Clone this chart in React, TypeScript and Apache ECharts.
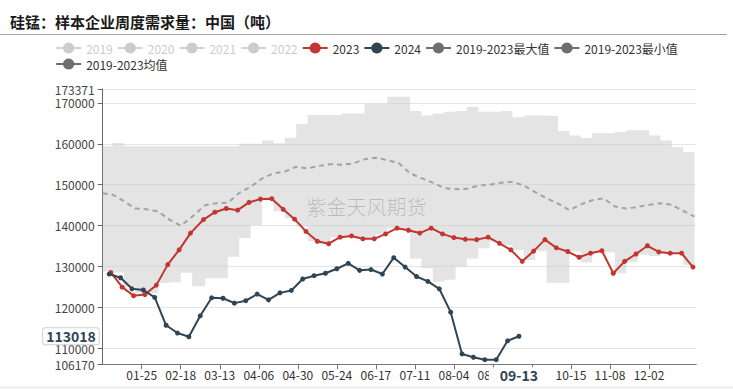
import React, { useEffect, useRef } from 'react';
import * as echarts from 'echarts';

const TITLE = '硅锰：样本企业周度需求量：中国（吨）';
const WATERMARK = '紫金天风期货';
const FONT = '"Noto Sans CJK SC", "Liberation Sans", sans-serif';

// x categories: every calendar day (leap-year layout), MM-DD
const MONTH_DAYS = [31, 29, 31, 30, 31, 30, 31, 31, 30, 31, 30, 31];
const dayCategories: string[] = [];
MONTH_DAYS.forEach((n, m) => {
  for (let d = 1; d <= n; d++) {
    dayCategories.push(String(m + 1).padStart(2, '0') + '-' + String(d).padStart(2, '0'));
  }
});

const Y_MIN = 106170;
const Y_MAX = 173371;

const days2023 = [
  '01-06', '01-13', '01-20', '01-27', '02-03', '02-10', '02-17', '02-24', '03-03', '03-10',
  '03-17', '03-24', '03-31', '04-07', '04-14', '04-21', '04-28', '05-05', '05-12', '05-19',
  '05-26', '06-02', '06-09', '06-16', '06-23', '06-30', '07-07', '07-14', '07-21', '07-28',
  '08-04', '08-11', '08-18', '08-25', '09-01', '09-08', '09-15', '09-22', '09-29', '10-06',
  '10-13', '10-20', '10-27', '11-03', '11-10', '11-17', '11-24', '12-01', '12-08', '12-15',
  '12-22', '12-29',
];
const values2023 = [
  128600, 125000, 122900, 123200, 125500, 130500, 134100, 138200, 141500, 143300,
  144200, 143800, 145700, 146500, 146600, 144000, 141600, 138600, 136200, 135600,
  137200, 137500, 136800, 136800, 138000, 139400, 138900, 138200, 139400, 138000,
  137100, 136700, 136600, 137200, 135700, 134100, 131300, 133800, 136600, 134600,
  133700, 132300, 133300, 133900, 128400, 131300, 133100, 135100, 133600, 133300,
  133300, 129900,
];

const days2024 = [
  '01-05', '01-12', '01-19', '01-26', '02-02', '02-09', '02-16', '02-23', '03-01', '03-08',
  '03-15', '03-22', '03-29', '04-05', '04-12', '04-19', '04-26', '05-03', '05-10', '05-17',
  '05-24', '05-31', '06-07', '06-14', '06-21', '06-28', '07-05', '07-12', '07-19', '07-26',
  '08-02', '08-09', '08-16', '08-23', '08-30', '09-06', '09-13',
];
const values2024 = [
  128200, 127300, 124600, 124300, 122500, 115700, 113800, 112900, 118000, 122400,
  122300, 121100, 121700, 123300, 121900, 123600, 124200, 127000, 127800, 128400,
  129500, 130800, 129100, 129300, 128200, 132200, 129900, 127600, 126400, 124600,
  118900, 108700, 107900, 107300, 107300, 111900, 113018,
];

// 2019-2023 statistics (weekly)
const bandDays = [
  '01-01', '01-07', '01-14', '01-21', '01-28', '02-04', '02-11', '02-18', '02-25', '03-04',
  '03-11', '03-18', '03-25', '04-01', '04-08', '04-15', '04-22', '04-29', '05-06', '05-13',
  '05-20', '05-27', '06-03', '06-10', '06-17', '06-24', '07-01', '07-08', '07-15', '07-22',
  '07-29', '08-05', '08-12', '08-19', '08-26', '09-02', '09-09', '09-16', '09-23', '09-30',
  '10-07', '10-14', '10-21', '10-28', '11-04', '11-11', '11-18', '11-25', '12-02', '12-09',
  '12-16', '12-23', '12-30',
];
const maxValues = [
  159400, 160200, 159400, 159400, 159400, 159400, 159400, 159400, 159400, 159400,
  159400, 159400, 160000, 160000, 160800, 160100, 161500, 164800, 167000, 167000,
  167000, 167400, 167400, 169800, 169800, 171500, 171500, 168000, 166900, 167400,
  167800, 168000, 169000, 167800, 167800, 168000, 166500, 166900, 166900, 166800,
  163100, 162000, 161400, 162600, 162600, 162900, 163300, 163300, 162000, 160800,
  159200, 158000, 157800,
];
const minValues = [
  128800, 128600, 125000, 123500, 123500, 126000, 126200, 128500, 125200, 127200,
  127200, 132400, 137000, 140200, 146700, 143600, 141800, 139800, 136200, 135600,
  137200, 137500, 136800, 136800, 138000, 139400, 138900, 132000, 129600, 126300,
  126800, 130000, 132000, 134500, 136100, 135300, 134100, 131600, 133800, 126100,
  126100, 133700, 131000, 133300, 133500, 128400, 131200, 132900, 132600, 133300,
  133300, 130400, 130000,
];
const meanValues = [
  147900, 147600, 146000, 144200, 144000, 143500, 141500, 140000, 142200, 145000,
  145500, 145600, 148000, 149500, 151500, 152800, 153200, 154400, 154000, 154600,
  155000, 154900, 155200, 156200, 156600, 156000, 155300, 152800, 151600, 150500,
  149200, 148900, 149000, 149800, 150000, 150500, 150700, 149800, 148200, 146700,
  145400, 143800, 145200, 146200, 146700, 144700, 144200, 144600, 145100, 145500,
  145100, 143600, 142200,
];

const hiddenYears = ['2019', '2020', '2021', '2022'];
const NAME_2023 = '2023';
const NAME_2024 = '2024';
const NAME_MAX = '2019-2023最大值';
const NAME_MIN = '2019-2023最小值';
const NAME_MEAN = '2019-2023均值';

const RED = '#c23531';
const NAVY = '#2f4554';
const STAT_ICON = '#6e6e6e';

const pairs = (days: string[], vals: number[]) => days.map((d, i) => [d, vals[i]]);

const labelInterval = (i: number) => i > 0 && i < 350 && i % 24 === 0;

export default function App() {
  const ref = useRef<HTMLDivElement>(null);

  useEffect(() => {
    if (!ref.current) return;
    const chart = echarts.init(ref.current, undefined, { renderer: 'svg' });

    const pointerIndex = dayCategories.indexOf(days2024[days2024.length - 1]);
    const pointerValue = values2024[values2024.length - 1];

    const legendData = [
      ...hiddenYears.map((n) => ({ name: n })),
      { name: NAME_2023 },
      { name: NAME_2024 },
      ...[NAME_MAX, NAME_MIN, NAME_MEAN].map((n) => ({
        name: n,
        itemStyle: { color: STAT_ICON },
        lineStyle: { color: STAT_ICON, opacity: 1, width: 2, type: 'solid' },
      })),
    ];

    const option: any = {
      animation: false,
      textStyle: { fontFamily: FONT },
      title: {
        text: TITLE,
        left: 5,
        top: 9,
        textStyle: { fontFamily: FONT, fontSize: 15, fontWeight: 'bold', color: '#1a1a1a' },
      },
      legend: {
        data: legendData,
        left: 'center',
        top: 37,
        itemGap: 4,
        itemWidth: 25,
        itemHeight: 14,
        textStyle: { fontFamily: FONT, fontSize: 12, color: '#333' },
        inactiveColor: '#ccc',
        selected: Object.fromEntries(hiddenYears.map((n) => [n, false])),
      },
      graphic: [
        { type: 'line', shape: { x1: 0, y1: 34.5, x2: 727, y2: 34.5 }, style: { stroke: '#a6a6a6', lineWidth: 1 } },
        { type: 'rect', shape: { x: 0, y: 386, width: 733, height: 3 }, style: { fill: '#f2f2f2' } },
        {
          type: 'text',
          left: 'center',
          top: 196,
          z: 10,
          style: { text: WATERMARK, fontSize: 20, fontFamily: FONT, fontWeight: 300, fill: 'rgba(0,0,0,0.2)' },
        },
      ],
      grid: { left: 102.7, right: 36.8, top: 89, bottom: 24.7 },
      xAxis: {
        type: 'category',
        data: dayCategories,
        boundaryGap: false,
        axisLine: { lineStyle: { color: '#777' } },
        axisTick: { interval: labelInterval, lineStyle: { color: '#777' }, length: 5 },
        axisLabel: { interval: labelInterval, color: '#333', fontSize: 12, fontFamily: FONT, margin: 4 },
        splitLine: { show: false },
        axisPointer: {
          show: true,
          type: 'none',
          status: 'show',
          value: pointerIndex,
          snap: false,
          triggerTooltip: false,
          label: {
            show: true,
            color: '#2f4554',
            fontWeight: 'bold',
            fontSize: 14,
            fontFamily: FONT,
            backgroundColor: '#fff',
            padding: [1, 11],
            margin: 3,
          },
        },
      },
      yAxis: {
        type: 'value',
        min: Y_MIN,
        max: Y_MAX,
        axisLine: { show: true, lineStyle: { color: '#666' } },
        axisTick: { show: true, lineStyle: { color: '#666' }, length: 5 },
        axisLabel: { color: '#444', fontSize: 12, fontFamily: FONT, formatter: (v: number) => String(v) },
        splitLine: { show: true, lineStyle: { color: '#e4e4e4' } },
        axisPointer: {
          show: true,
          type: 'none',
          status: 'show',
          value: pointerValue,
          snap: false,
          triggerTooltip: false,
          label: {
            show: true,
            formatter: (p: any) => String(p.value),
            color: '#2f4554',
            fontWeight: 'bold',
            fontSize: 14,
            fontFamily: FONT,
            backgroundColor: '#fff',
            borderColor: '#d0d0d0',
            borderWidth: 1,
            borderRadius: 2,
            padding: [1, 3],
            margin: 4,
          },
        },
      },
      series: [
        ...hiddenYears.map((n) => ({ name: n, type: 'line', data: [], symbol: 'circle' })),
        {
          name: NAME_MIN,
          type: 'line',
          stack: 'band',
          step: 'end',
          data: pairs(bandDays, minValues),
          symbol: 'circle',
          showSymbol: false,
          itemStyle: { color: STAT_ICON },
          lineStyle: { opacity: 0 },
          areaStyle: { opacity: 0 },
          z: 1,
        },
        {
          name: NAME_MAX,
          type: 'line',
          stack: 'band',
          step: 'end',
          data: bandDays.map((d, i) => [d, maxValues[i] - minValues[i]]),
          symbol: 'circle',
          showSymbol: false,
          itemStyle: { color: STAT_ICON },
          lineStyle: { opacity: 0 },
          areaStyle: { color: '#cdcdcd', opacity: 0.55 },
          z: 1,
        },
        {
          name: NAME_MEAN,
          type: 'line',
          data: pairs(bandDays, meanValues),
          symbol: 'circle',
          showSymbol: false,
          itemStyle: { color: STAT_ICON },
          lineStyle: { color: '#a3a3a3', width: 2, type: [5, 4] },
          z: 2,
        },
        {
          name: NAME_2023,
          type: 'line',
          data: pairs(days2023, values2023),
          symbol: 'circle',
          symbolSize: 5,
          showSymbol: true,
          showAllSymbol: true,
          itemStyle: { color: RED },
          lineStyle: { color: RED, width: 2 },
          z: 3,
        },
        {
          name: NAME_2024,
          type: 'line',
          data: pairs(days2024, values2024),
          symbol: 'circle',
          symbolSize: 5,
          showSymbol: true,
          showAllSymbol: true,
          itemStyle: { color: NAVY },
          lineStyle: { color: NAVY, width: 2 },
          z: 4,
        },
      ],
    };

    chart.setOption(option);
    return () => chart.dispose();
  }, []);

  return (
    <div
      ref={ref}
      style={{ position: 'absolute', left: 0, top: 0, width: 733, height: 389, background: '#fff' }}
    />
  );
}
